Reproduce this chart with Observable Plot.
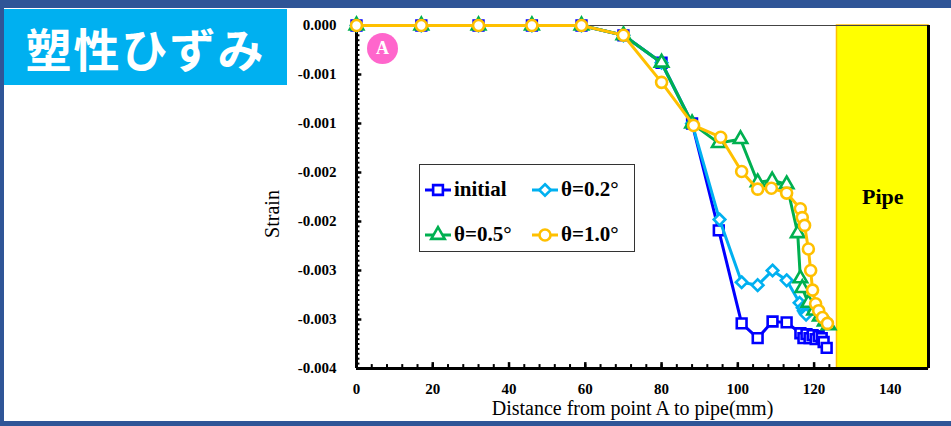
<!DOCTYPE html>
<html><head><meta charset="utf-8">
<script src="https://cdn.jsdelivr.net/npm/d3@7"></script>
<script src="https://cdn.jsdelivr.net/npm/@observablehq/plot@0.6"></script>
<style>
html,body{margin:0;padding:0;background:#fff;}
#wrap{position:relative;width:951px;height:426px;overflow:hidden;background:#fff;font-family:"Liberation Serif","Times New Roman",serif;}
.bar{position:absolute;background:#2F5597;z-index:3;}
#title{position:absolute;left:4px;top:9px;width:283px;height:76px;background:#00B0F0;color:#fff;font-family:"Noto Sans CJK JP","Noto Sans",sans-serif;font-weight:700;font-size:46px;line-height:76px;text-align:center;letter-spacing:2px;z-index:2;}
#chart{position:absolute;left:0;top:0;z-index:1;}
#legend{position:absolute;left:419px;top:164px;width:214px;height:86px;border:1.5px solid #333;background:#fff;z-index:2;}
.item{position:absolute;display:flex;align-items:center;font-weight:700;font-size:21px;color:#000;white-space:nowrap;}
.item svg{margin-right:2px;}
#markA{position:absolute;left:367px;top:33px;width:31px;height:31px;border-radius:50%;background:#FF66CC;color:#fff;font-weight:700;font-size:18px;line-height:31px;text-align:center;z-index:2;}
</style></head>
<body>
<div id="wrap">
  <div class="bar" style="left:0;top:0;width:951px;height:8px;"></div>
  <div class="bar" style="left:0;top:0;width:4px;height:426px;"></div>
  <div class="bar" style="left:0;top:421px;width:951px;height:5px;"></div>
  <div id="title">塑性ひずみ</div>
  <div id="chart"></div>
  <div id="markA">A</div>
  <div id="legend"></div>
</div>
<script>
// ---- data ----
const xTicks = [0, 20, 40, 60, 80, 100, 120, 140];
const yTicks = [0, -0.0005, -0.001, -0.0015, -0.002, -0.0025, -0.003, -0.0035];
const yTickLabels = ["0.000", "-0.001", "-0.001", "-0.002", "-0.002", "-0.003", "-0.003", "-0.004"];

const seriesNames = ["initial", "θ=0.2°", "θ=0.5°", "θ=1.0°"];

const initialX = [0, 17, 32, 46, 59, 70, 80, 88, 95, 101, 105.2, 109.1, 112.8, 116.4, 117.2, 118, 118.8, 119.6, 120.4, 121.2, 122, 122.5, 123.3];
const initialY = [0, 0, 0, 0, 0, -0.0001, -0.00038, -0.001, -0.00209, -0.00304, -0.00319, -0.00302, -0.00303, -0.00314, -0.00319, -0.00315, -0.00319, -0.00316, -0.0032, -0.00317, -0.00319, -0.00323, -0.00329];

const theta02X = [0, 17, 32, 46, 59, 70, 80, 88, 95.2, 101, 105.2, 109.1, 112.8, 116.2, 117, 117.3, 117.6, 117.9];
const theta02Y = [0, 0, 0, 0, 0, -0.0001, -0.00038, -0.001, -0.00198, -0.00262, -0.00265, -0.0025, -0.0026, -0.00283, -0.00288, -0.00291, -0.00293, -0.00295];

const theta05X = [0, 17, 32, 46, 59, 70, 80, 88, 95, 100.7, 105.2, 109, 112.8, 115.7, 116.4, 116.9, 118.5, 120, 121.5, 122.8, 123.8];
const theta05Y = [0, 0, 0, 0, 0, -0.0001, -0.00038, -0.001, -0.0012, -0.00116, -0.0016, -0.00158, -0.00162, -0.00212, -0.00258, -0.00268, -0.00283, -0.00291, -0.00297, -0.00302, -0.00306];

const theta10X = [0, 17, 32, 46, 59, 70, 80, 88.4, 95.5, 101, 105.2, 108.8, 112.8, 116.4, 116.9, 117.5, 118.5, 119.1, 119.6, 120.4, 121.2, 122.2, 123.5];
const theta10Y = [0, 0, 0, 0, 0, -0.0001, -0.00058, -0.00102, -0.00114, -0.00149, -0.00167, -0.00166, -0.00171, -0.00187, -0.00196, -0.00204, -0.00228, -0.0025, -0.0027, -0.00284, -0.00291, -0.00298, -0.00304];

const pipeRange = [126, 150];
const pipeLabel = "Pipe";
const xLabel = "Distance from point A to pipe(mm)";
const yLabel = "Strain";

// ---- styles ----
const styles = [
  {color: "#0000FF", symbol: "square", r: 5.5},
  {color: "#00B0F0", symbol: "diamond2", r: 5.2},
  {color: "#00B050", symbol: "triangle", r: 5},
  {color: "#FFC000", symbol: "circle", r: 5.5}
];

const xs = [initialX, theta02X, theta05X, theta10X];
const ys = [initialY, theta02Y, theta05Y, theta10Y];
const tables = xs.map((xa, i) => xa.map((x, j) => ({x, y: ys[i][j]})));

const yMinor = d3.range(0, 71).map(i => -i * 0.00005);
const xMinor = d3.range(0, 125, 4);

const seriesMarks = tables.flatMap((t, i) => [
  Plot.line(t, {x: "x", y: "y", stroke: styles[i].color, strokeWidth: 3}),
  Plot.dot(t, {x: "x", y: "y", symbol: styles[i].symbol, r: styles[i].r, stroke: styles[i].color, strokeWidth: 2.6, fill: "white"})
]);

const chart = Plot.plot({
  width: 951, height: 426,
  marginLeft: 356, marginRight: 23, marginTop: 25, marginBottom: 58,
  style: {fontFamily: "'Liberation Serif','Times New Roman',serif", fontSize: "15px", fontWeight: "bold", background: "transparent", color: "#000"},
  x: {domain: [0, 150]},
  y: {domain: [-0.0035, 0]},
  marks: [
    Plot.rectX([pipeRange], {x1: d => d[0], x2: d => d[1], y1: -0.0035, y2: 0, fill: "#FFFF00", stroke: "#FFC000", strokeWidth: 1.5}),
    Plot.text([pipeLabel], {x: (pipeRange[0] + pipeRange[1]) / 2, frameAnchor: "middle", text: d => d, fontSize: 22, fontWeight: "bold", fill: "black"}),
    Plot.ruleY([0], {stroke: "#444", strokeWidth: 1}),
    Plot.ruleX([0], {stroke: "black", strokeWidth: 3}),
    Plot.ruleX([150], {stroke: "black", strokeWidth: 3}),
    Plot.ruleY([-0.0035], {stroke: "black", strokeWidth: 3}),
    Plot.ruleY(yMinor, {y: d => d, x1: 0, x2: 0.9, stroke: "black", strokeWidth: 2}),
    Plot.ruleY(yTicks, {y: d => d, x1: 0, x2: 1.4, stroke: "black", strokeWidth: 2.5}),
    Plot.ruleX(xMinor, {x: d => d, y1: -0.0035, y2: -0.0035 + 0.00004, stroke: "black", strokeWidth: 2}),
    Plot.ruleX(xTicks.filter(d => d <= 124), {x: d => d, y1: -0.0035, y2: -0.0035 + 0.00006, stroke: "black", strokeWidth: 2.5}),
    Plot.axisY({ticks: yTicks, tickSize: 0, tickPadding: 20, label: null,
      tickFormat: d => yTickLabels[yTicks.findIndex(t => Math.abs(t - d) < 1e-9)]}),
    Plot.axisX({ticks: xTicks, tickSize: 0, tickPadding: 15, label: null, tickFormat: d => String(d)}),
    Plot.text([xLabel], {frameAnchor: "bottom", lineAnchor: "middle", dx: -10, dy: 40, text: d => d, fontSize: 20, fontWeight: "normal", fill: "black"}),
    Plot.text([yLabel], {frameAnchor: "left", textAnchor: "middle", lineAnchor: "middle", dx: -84, dy: 17, rotate: -90, text: d => d, fontSize: 20, fontWeight: "normal", fill: "black"}),
    ...seriesMarks
  ]
});
document.getElementById("chart").appendChild(chart);

// ---- legend ----
const legend = document.getElementById("legend");
const pos = [[4, 12], [111, 12], [4, 57], [111, 57]];
seriesNames.forEach((name, i) => {
  const item = document.createElement("div");
  item.className = "item";
  item.style.left = pos[i][0] + "px";
  item.style.top = pos[i][1] + "px";
  const s = styles[i];
  const sym = {square: d3.symbolSquare, diamond2: d3.symbolDiamond2, triangle: d3.symbolTriangle, circle: d3.symbolCircle}[s.symbol];
  const path = d3.symbol(sym, s.r * s.r * Math.PI)();
  item.innerHTML = `<svg width="28" height="22" viewBox="0 0 28 22"><line x1="1" y1="11" x2="27" y2="11" stroke="${s.color}" stroke-width="3"/><path d="${path}" transform="translate(14,11)" fill="white" stroke="${s.color}" stroke-width="2.6"/></svg><span>${name}</span>`;
  legend.appendChild(item);
});
</script>
</body></html>
